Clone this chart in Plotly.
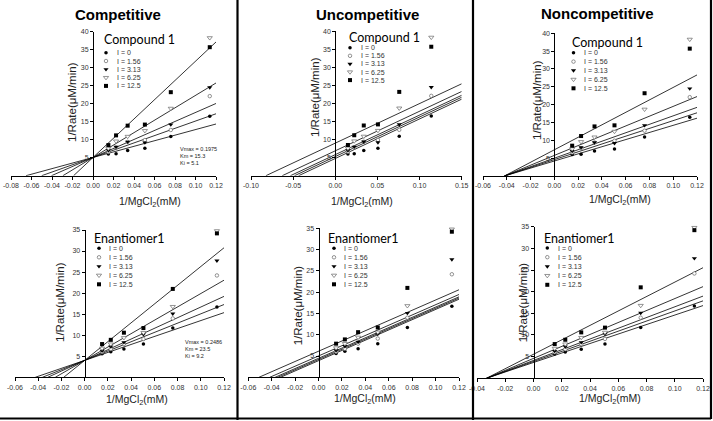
import numpy as np
import plotly.graph_objects as go

W, H = 713, 421

# ---------------- data ----------------
x_inv_mgcl2 = [0.015, 0.0225, 0.0338, 0.0506, 0.0759, 0.1139]
inhibitor = [0, 1.56, 3.13, 6.25, 12.5]
inh_labels = ["I = 0", "I = 1.56", "I = 3.13", "I = 6.25", "I = 12.5"]

# Compound 1 : 1/Rate per inhibitor level
cmpd1_I0 = [6.0, 6.1, 7.0, 7.6, 10.9, 16.5]
cmpd1_I156 = [6.6, 7.8, 9.4, 9.9, 12.7, 22.1]
cmpd1_I313 = [7.0, 8.0, 9.4, 9.2, 14.2, 24.5]
cmpd1_I625 = [7.6, 9.6, 10.9, 12.5, 18.7, 38.3]
cmpd1_I125 = [8.5, 11.2, 13.9, 14.2, 23.2, 35.7]

# Enantiomer1 : 1/Rate per inhibitor level
enan_I0 = [5.6, 6.1, 6.7, 7.9, 11.7, 16.7]
enan_I156 = [6.0, 6.7, 7.9, 9.1, 14.0, 24.2]
enan_I313 = [6.3, 7.3, 8.3, 10.2, 15.1, 27.7]
enan_I625 = [6.9, 7.9, 9.4, 10.6, 16.8, 34.8]
enan_I125 = [7.9, 8.9, 10.6, 11.7, 21.0, 34.2]

# fitted kinetic parameters (Vmax, Km, Ki)
fit_comp_cmpd1 = [0.1975, 15.3, 5.1]
fit_unc_cmpd1 = [0.21, 23.0, 14.0]
fit_non_cmpd1 = [0.238, 23.8, 16.7]
fit_comp_enan = [0.2486, 23.5, 9.2]
fit_unc_enan = [0.256, 30.8, 22.0]
fit_non_enan = [0.274, 30.0, 24.0]

cmpd1 = [cmpd1_I0, cmpd1_I156, cmpd1_I313, cmpd1_I625, cmpd1_I125]
enan = [enan_I0, enan_I156, enan_I313, enan_I625, enan_I125]

# ---------------- styles ----------------
marker_styles = [
    dict(symbol="circle", size=3.5, color="black", line=dict(width=0)),
    dict(symbol="circle", size=3.5, color="white", line=dict(width=0.7, color="#666")),
    dict(symbol="triangle-down", size=4.5, color="black", line=dict(width=0)),
    dict(symbol="triangle-down", size=4.5, color="white", line=dict(width=0.7, color="#666")),
    dict(symbol="square", size=4, color="black", line=dict(width=0)),
]

# panel layout: (x range, ymax, x pixel span, y pixel of 0, y pixel of ymax)
panels = [
    dict(model="comp", data=cmpd1, fit=fit_comp_cmpd1, xr=(-0.08, 0.12), xend=0.12, ymax=40,
         xpx=(11, 216), y0=175.7, ytop=31.7, xstep=0.02),
    dict(model="unc", data=cmpd1, fit=fit_unc_cmpd1, xr=(-0.10, 0.15), xend=0.15, ymax=40,
         xpx=(251, 461.7), y0=175.7, ytop=31.2, xstep=0.05),
    dict(model="non", data=cmpd1, fit=fit_non_cmpd1, xr=(-0.06, 0.12), xend=0.12, ymax=40,
         xpx=(483, 697), y0=176, ytop=33.3, xstep=0.02),
    dict(model="comp", data=enan, fit=fit_comp_enan, xr=(-0.06, 0.12), xend=0.12, ymax=35,
         xpx=(15, 224), y0=377.3, ytop=230, xstep=0.02),
    dict(model="unc", data=enan, fit=fit_unc_enan, xr=(-0.06, 0.12), xend=0.12, ymax=35,
         xpx=(248.3, 459), y0=377.3, ytop=228.3, xstep=0.02),
    dict(model="non", data=enan, fit=fit_non_enan, xr=(-0.04, 0.12), xend=0.12, ymax=35,
         xpx=(477, 703), y0=378.3, ytop=226.7, xstep=0.02),
]

titles = [("Competitive", 118, 14), ("Uncompetitive", 367, 14), ("Noncompetitive", 597, 13.5)]

legend_pos = [  # title-left, title-y, symbol-x, text-x, first row y, row step, title
    (101.7, 39.3, 106, 115, 52.7, 8.3, "Compound 1"),
    (346.7, 37.5, 350, 359, 47.7, 8.1, "Compound 1"),
    (570, 42.7, 573.5, 582, 52.7, 8.9, "Compound 1"),
    (91.5, 238, 99, 106.5, 248.3, 9.0, "Enantiomer1"),
    (325.7, 238.3, 334, 342.3, 248.3, 9.0, "Enantiomer1"),
    (541.7, 238.3, 547.3, 556, 248, 9.2, "Enantiomer1"),
]

xtitle_pos = [(150, 202), (362, 201.7), (620, 200), (137, 400), (365, 399.3), (610, 399.3)]
ytitle_pos = [(72, 102), (315, 97), (537, 100), (60, 302), (298.3, 305), (523.3, 302)]

param_text = [(178, 149, fit_comp_cmpd1), (183, 342, fit_comp_enan)]

fig = go.Figure()


def model_line(model, fit, I, xend):
    vmax, km, ki = fit
    f = 1 + I / ki
    if model == "comp":
        slope, icpt = km / vmax * f, 1 / vmax
    elif model == "unc":
        slope, icpt = km / vmax, f / vmax
    else:
        slope, icpt = km / vmax * f, f / vmax
    x0 = -icpt / slope
    xs = np.array([x0, xend])
    return xs, icpt + slope * xs


layout_axes = {}
for k, p in enumerate(panels, start=1):
    xa, ya = f"x{k}", f"y{k}"
    for j, I in enumerate(inhibitor):
        lx, ly = model_line(p["model"], p["fit"], I, p["xend"])
        fig.add_trace(go.Scatter(x=lx, y=ly, mode="lines", line=dict(color="black", width=0.8),
                                 xaxis=xa, yaxis=ya, showlegend=False, cliponaxis=False))
    for j, I in enumerate(inhibitor):
        fig.add_trace(go.Scatter(x=x_inv_mgcl2, y=p["data"][j], mode="markers",
                                 marker=marker_styles[j], xaxis=xa, yaxis=ya,
                                 showlegend=False, cliponaxis=False))
    xmin, xmax = p["xr"]
    x0p, x1p = p["xpx"]
    xzero = x0p + (0 - xmin) / (xmax - xmin) * (x1p - x0p)
    n = int(round((xmax - xmin) / p["xstep"]))
    tv = [round(xmin + i * p["xstep"], 4) for i in range(n + 1)]
    tt = [f"{v:.2f}" for v in tv]
    yt = list(range(5, p["ymax"] + 1, 5))
    layout_axes[f"xaxis{k}"] = dict(
        domain=[x0p / W, x1p / W], range=[xmin, xmax], anchor=ya,
        showline=True, linecolor="black", linewidth=1, ticks="outside", ticklen=3,
        tickcolor="black", tickwidth=1, tickvals=tv, ticktext=tt, showgrid=False,
        zeroline=False, tickfont=dict(family="Liberation Sans, Arial", size=7, color="#333"),
        fixedrange=True)
    layout_axes[f"yaxis{k}"] = dict(
        domain=[1 - p["y0"] / H, 1 - p["ytop"] / H], range=[0, p["ymax"]], anchor="free",
        position=xzero / W, showline=True, linecolor="black", linewidth=1, ticks="outside",
        ticklen=3, tickcolor="black", tickwidth=1, tickvals=yt, showgrid=False,
        zeroline=False, tickfont=dict(family="Liberation Sans, Arial", size=7, color="#333"),
        fixedrange=True)

# overlay pixel axis for legends, borders and labels
layout_axes["xaxis7"] = dict(domain=[0, 1], range=[0, W], anchor="y7", visible=False, fixedrange=True)
layout_axes["yaxis7"] = dict(domain=[0, 1], range=[H, 0], anchor="x7", visible=False, fixedrange=True)

annotations = []
for (tl, ty, sx, tx, ry, rs, ttl) in legend_pos:
    annotations.append(dict(x=tl, y=ty, xref="x7", yref="y7", text=ttl, showarrow=False,
                            xanchor="left", yanchor="middle",
                            font=dict(family="Lato, Open Sans", size=12.5, color="black")))
    for j in range(len(inhibitor)):
        fig.add_trace(go.Scatter(x=[sx], y=[ry + j * rs], mode="markers", marker=marker_styles[j],
                                 xaxis="x7", yaxis="y7", showlegend=False, hoverinfo="skip"))
        annotations.append(dict(x=tx, y=ry + j * rs, xref="x7", yref="y7", text=inh_labels[j],
                                showarrow=False, xanchor="left", yanchor="middle",
                                font=dict(family="Liberation Sans, Arial", size=7, color="#333")))

for (t, cx, cy) in titles:
    annotations.append(dict(x=cx, y=cy, xref="x7", yref="y7", text=f"<b>{t}</b>", showarrow=False,
                            xanchor="center", yanchor="middle",
                            font=dict(family="Liberation Sans, Arial", size=15, color="black")))
for (cx, cy) in xtitle_pos:
    annotations.append(dict(x=cx, y=cy, xref="x7", yref="y7", text="1/MgCl<sub>2</sub>(mM)",
                            showarrow=False, xanchor="center", yanchor="middle",
                            font=dict(family="Liberation Sans, Arial", size=10.5, color="#222")))
for (cx, cy) in ytitle_pos:
    annotations.append(dict(x=cx, y=cy, xref="x7", yref="y7", text="1/Rate(μM/min)", textangle=-90,
                            showarrow=False, xanchor="center", yanchor="middle",
                            font=dict(family="Liberation Sans, Arial", size=11.5, color="#222")))
for (lx, ly, fit) in param_text:
    lines = [f"Vmax = {fit[0]}", f"Km = {fit[1]}", f"Ki = {fit[2]}"]
    for i, s in enumerate(lines):
        annotations.append(dict(x=lx, y=ly + i * 6.8, xref="x7", yref="y7", text=s, showarrow=False,
                                xanchor="left", yanchor="middle",
                                font=dict(family="Liberation Sans, Arial", size=5.5, color="#222")))

border = dict(color="black", width=2.2)
shapes = [
    dict(type="line", xref="x7", yref="y7", x0=237.5, x1=237.5, y0=0, y1=420, line=border),
    dict(type="line", xref="x7", yref="y7", x0=473, x1=473, y0=0, y1=420, line=border),
    dict(type="line", xref="x7", yref="y7", x0=0, x1=711, y0=418.5, y1=418.5, line=border),
    dict(type="line", xref="x7", yref="y7", x0=711, x1=711, y0=0, y1=419, line=border),
]

fig.update_layout(width=W, height=H, margin=dict(l=0, r=0, t=0, b=0),
                  paper_bgcolor="white", plot_bgcolor="rgba(0,0,0,0)", template="none",
                  showlegend=False, annotations=annotations, shapes=shapes, **layout_axes)

fig.write_html("out.html", config={"displayModeBar": False, "staticPlot": True},
               post_script="document.body.style.margin='0';document.body.style.overflow='hidden';")
